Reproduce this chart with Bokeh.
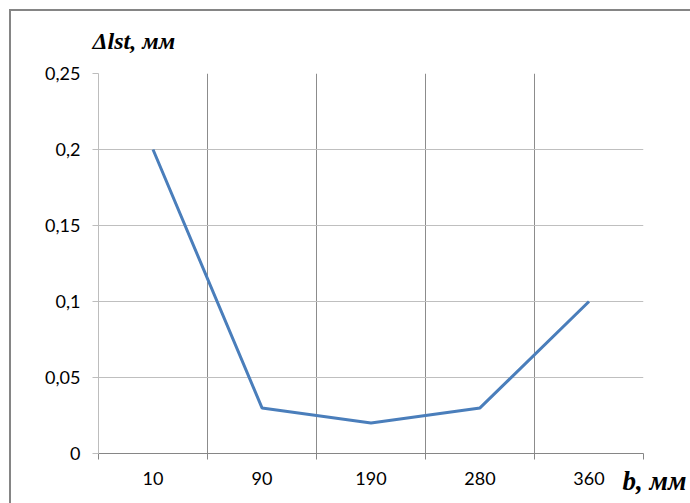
from bokeh.plotting import figure
from bokeh.models import Range1d, FixedTicker, CustomJSTickFormatter, Title
from bokeh.embed import file_html
from bokeh.resources import INLINE

# width b, mm and the measured deflection Δl_st, mm
categories = ["10", "90", "190", "280", "360"]
delta_l = [0.2, 0.03, 0.02, 0.03, 0.1]
y_ticks = [0, 0.05, 0.1, 0.15, 0.2, 0.25]

n = len(categories)
centers = [i + 0.5 for i in range(n)]
bounds = list(range(n + 1))

p = figure(width=690, height=503, output_backend="svg", toolbar_location=None,
           x_range=Range1d(0, n), y_range=Range1d(0, 0.25),
           min_border_left=98, min_border_right=47,
           min_border_top=73, min_border_bottom=50)
p.outline_line_color = None
p.background_fill_color = "white"
p.border_fill_color = None
# outer chart frame: two grey strokes along the left and top edges
p.styles = {
    "background": "linear-gradient(#858585, #858585) 9px 9px / 2px 100% no-repeat, "
                  "linear-gradient(#858585, #858585) 9px 9px / 100% 2px no-repeat, "
                  "white"
}

p.line(centers, delta_l, line_color="#4a7ebb", line_width=3)

# x axis: category labels at centres, tick marks at category boundaries
xa = p.xaxis[0]
xa.ticker = FixedTicker(ticks=centers, minor_ticks=bounds)
xa.major_label_overrides = {c: lab for c, lab in zip(centers, categories)}
xa.major_tick_line_color = None
xa.minor_tick_line_color = "#868686"
xa.minor_tick_out = 6
xa.minor_tick_in = 0
xa.axis_line_color = "#868686"
xa.major_label_standoff = 12
xa.major_label_text_font = "Lato"
xa.major_label_text_font_size = "18px"
xa.major_label_text_color = "#000000"

# y axis with decimal commas
ya = p.yaxis[0]
ya.ticker = FixedTicker(ticks=y_ticks)
ya.formatter = CustomJSTickFormatter(code="""
    let s = tick.toFixed(2).replace(/0+$/, '').replace(/\\.$/, '');
    return s.replace('.', ',');
""")
ya.minor_tick_line_color = None
ya.major_tick_out = 6
ya.major_tick_in = 0
ya.major_tick_line_color = "#bdbdbd"
ya.axis_line_color = "#bdbdbd"
ya.major_label_standoff = 12
ya.major_label_text_font = "Lato"
ya.major_label_text_font_size = "18px"
ya.major_label_text_color = "#000000"

p.xgrid.ticker = FixedTicker(ticks=bounds)
p.xgrid.grid_line_color = "#8c8c8c"
p.ygrid.ticker = FixedTicker(ticks=y_ticks)
p.ygrid.grid_line_color = "#bfbfbf"

# axis names
p.add_layout(Title(text="Δlst, мм", align="left", offset=-6, standoff=40,
                   text_font="Liberation Serif", text_font_style="bold italic",
                   text_font_size="24px", text_color="#000000"), "above")
p.add_layout(Title(text="b, мм", align="right", offset=-43, standoff=-44,
                   vertical_align="top",
                   text_font="Liberation Serif", text_font_style="bold italic",
                   text_font_size="27px", text_color="#000000"), "below")

open("out.html", "w").write(file_html(p, INLINE))
